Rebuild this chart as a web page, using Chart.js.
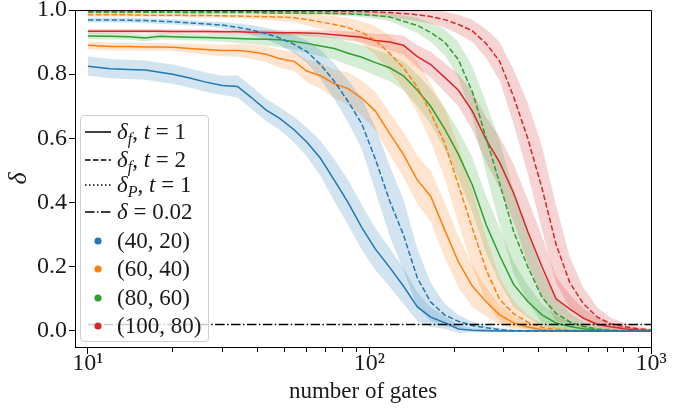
<!DOCTYPE html>
<html>
<head>
<meta charset="utf-8">
<script src="https://cdn.jsdelivr.net/npm/chart.js@4.4.1/dist/chart.umd.min.js"></script>
<style>
  html, body { margin: 0; padding: 0; background: #fff; }
  #wrap { position: relative; width: 694px; height: 409px; }
  #chart { display: block; }
  #legend {
    position: absolute;
    box-sizing: border-box;
    width: 129px;
    height: 227px;
    background: rgba(255, 255, 255, 0.8);
    border: 1px solid #d0d0d0;
    border-radius: 4px;
    font-family: "Liberation Serif", serif;
    font-size: 23px;
    color: #1a1a1a;
  }
  .row { position: absolute; left: 0; right: 0; height: 28px; }
  .row svg { position: absolute; left: 2px; top: 0; }
  .row .txt { position: absolute; left: 36px; top: 0; height: 28px; line-height: 28px; white-space: nowrap; }
  .row sub { font-size: 0.7em; vertical-align: -0.3em; line-height: 0; }
</style>
</head>
<body>
<div id="wrap">
  <canvas id="chart" width="694" height="409"></canvas>
  <div id="legend"></div>
</div>
<script>
const GATES = [10, 12, 14, 16, 18, 20, 23, 26, 30, 34, 38, 43, 48, 54, 60, 67, 75, 84, 94, 105,
  118, 132, 148, 165, 185, 207, 232, 260, 290, 325, 365, 410, 460, 515, 575, 645, 720, 805, 900, 1000];

const X_MAJOR = [10, 100, 1000];
const X_MAJOR_LABELS = ["10¹", "10²", "10³"];
const X_MINOR = [20, 30, 40, 50, 60, 70, 80, 90, 200, 300, 400, 500, 600, 700, 800, 900];
const Y_TICKS = [0, 0.2, 0.4, 0.6, 0.8, 1.0];
const THRESHOLD = 0.02;

const CONFIGS = ["(40, 20)", "(60, 40)", "(80, 60)", "(100, 80)"];
const COLORS = ["#1f77b4", "#ff7f0e", "#2ca02c", "#d62728"];

// (40, 20)
const blueT1 = [0.825, 0.817, 0.815, 0.813, 0.806, 0.800, 0.788, 0.776, 0.765, 0.762,
  0.728, 0.688, 0.662, 0.627, 0.588, 0.538, 0.470, 0.400, 0.322, 0.255,
  0.198, 0.140, 0.075, 0.043, 0.026, 0.006, 0.002, 0.001, 0, 0,
  0, 0, 0, 0, 0, 0, 0, 0, 0, 0];
const blueT1Std = [0.03, 0.03, 0.03, 0.03, 0.03, 0.03, 0.03, 0.03, 0.03, 0.035,
  0.035, 0.035, 0.035, 0.04, 0.045, 0.055, 0.065, 0.07, 0.07, 0.065,
  0.06, 0.055, 0.045, 0.03, 0.02, 0.012, 0.006, 0.004, 0.003, 0.002,
  0.002, 0.002, 0.002, 0.002, 0.002, 0.002, 0.002, 0.002, 0.002, 0.002];
const blueT2 = [0.969, 0.969, 0.968, 0.967, 0.965, 0.963, 0.960, 0.957, 0.953, 0.946,
  0.938, 0.926, 0.913, 0.893, 0.870, 0.830, 0.778, 0.715, 0.645, 0.535,
  0.405, 0.300, 0.165, 0.090, 0.050, 0.030, 0.017, 0.010, 0.004, 0.001,
  0, 0, 0, 0, 0, 0, 0, 0, 0, 0];
const blueT2Std = [0.008, 0.008, 0.008, 0.008, 0.008, 0.008, 0.008, 0.008, 0.01, 0.012,
  0.015, 0.018, 0.022, 0.028, 0.035, 0.045, 0.055, 0.065, 0.08, 0.1,
  0.11, 0.11, 0.09, 0.06, 0.035, 0.02, 0.012, 0.008, 0.005, 0.003,
  0.002, 0.002, 0.002, 0.002, 0.002, 0.002, 0.002, 0.002, 0.002, 0.002];

// (60, 40)
const orangeT1 = [0.890, 0.886, 0.886, 0.885, 0.885, 0.884, 0.880, 0.877, 0.874, 0.874,
  0.870, 0.862, 0.848, 0.840, 0.810, 0.795, 0.770, 0.755, 0.725, 0.685,
  0.615, 0.550, 0.470, 0.420, 0.315, 0.215, 0.140, 0.090, 0.050, 0.025,
  0.012, 0.004, 0.001, 0, 0, 0, 0, 0, 0, 0];
const orangeT1Std = [0.012, 0.012, 0.012, 0.012, 0.012, 0.012, 0.014, 0.016, 0.018, 0.02,
  0.022, 0.025, 0.028, 0.03, 0.035, 0.04, 0.045, 0.05, 0.055, 0.06,
  0.065, 0.07, 0.075, 0.08, 0.085, 0.08, 0.065, 0.045, 0.03, 0.02,
  0.012, 0.006, 0.003, 0.002, 0.002, 0.002, 0.002, 0.002, 0.002, 0.002];
const orangeT2 = [0.985, 0.985, 0.985, 0.984, 0.984, 0.984, 0.983, 0.983, 0.982, 0.981,
  0.980, 0.979, 0.978, 0.976, 0.970, 0.963, 0.955, 0.945, 0.930, 0.905,
  0.865, 0.820, 0.760, 0.680, 0.585, 0.455, 0.320, 0.190, 0.098, 0.054,
  0.027, 0.011, 0.005, 0.002, 0.001, 0, 0, 0, 0, 0];
const orangeT2Std = [0.006, 0.006, 0.006, 0.006, 0.006, 0.006, 0.006, 0.006, 0.006, 0.006,
  0.008, 0.01, 0.012, 0.015, 0.018, 0.022, 0.026, 0.03, 0.035, 0.045,
  0.055, 0.065, 0.08, 0.09, 0.11, 0.12, 0.12, 0.1, 0.07, 0.04,
  0.022, 0.012, 0.006, 0.003, 0.002, 0.002, 0.002, 0.002, 0.002, 0.002];

// (80, 60)
const greenT1 = [0.919, 0.918, 0.917, 0.913, 0.918, 0.917, 0.915, 0.914, 0.913, 0.911,
  0.910, 0.909, 0.907, 0.902, 0.896, 0.888, 0.880, 0.865, 0.853, 0.836,
  0.820, 0.795, 0.750, 0.700, 0.630, 0.550, 0.455, 0.330, 0.235, 0.145,
  0.092, 0.050, 0.025, 0.014, 0.007, 0.003, 0.001, 0, 0, 0];
const greenT1Std = [0.01, 0.01, 0.01, 0.01, 0.01, 0.01, 0.01, 0.01, 0.012, 0.014,
  0.016, 0.02, 0.022, 0.026, 0.03, 0.032, 0.034, 0.036, 0.038, 0.04,
  0.042, 0.045, 0.05, 0.055, 0.065, 0.075, 0.085, 0.09, 0.085, 0.07,
  0.05, 0.035, 0.022, 0.012, 0.007, 0.004, 0.002, 0.002, 0.002, 0.002];
const greenT2 = [0.993, 0.993, 0.993, 0.993, 0.993, 0.993, 0.992, 0.992, 0.992, 0.992,
  0.992, 0.991, 0.991, 0.991, 0.990, 0.990, 0.989, 0.988, 0.986, 0.983,
  0.978, 0.965, 0.952, 0.930, 0.900, 0.845, 0.745, 0.600, 0.460, 0.310,
  0.200, 0.105, 0.055, 0.028, 0.014, 0.006, 0.002, 0.001, 0, 0];
const greenT2Std = [0.004, 0.004, 0.004, 0.004, 0.004, 0.004, 0.004, 0.004, 0.004, 0.004,
  0.004, 0.004, 0.004, 0.004, 0.005, 0.005, 0.006, 0.007, 0.008, 0.01,
  0.013, 0.018, 0.024, 0.03, 0.04, 0.055, 0.08, 0.11, 0.13, 0.13,
  0.11, 0.08, 0.05, 0.028, 0.015, 0.008, 0.004, 0.003, 0.002, 0.002];

// (100, 80)
const redT1 = [0.934, 0.934, 0.934, 0.934, 0.934, 0.933, 0.933, 0.933, 0.932, 0.932,
  0.931, 0.930, 0.929, 0.929, 0.928, 0.927, 0.923, 0.919, 0.915, 0.905,
  0.900, 0.890, 0.855, 0.830, 0.790, 0.750, 0.685, 0.595, 0.525, 0.430,
  0.310, 0.200, 0.100, 0.068, 0.040, 0.020, 0.013, 0.007, 0.003, 0.001];
const redT1Std = [0.007, 0.007, 0.007, 0.007, 0.007, 0.007, 0.007, 0.007, 0.007, 0.007,
  0.007, 0.007, 0.008, 0.008, 0.009, 0.01, 0.012, 0.014, 0.016, 0.02,
  0.025, 0.03, 0.035, 0.04, 0.045, 0.05, 0.06, 0.07, 0.08, 0.09,
  0.1, 0.095, 0.07, 0.045, 0.03, 0.02, 0.012, 0.008, 0.005, 0.004];
const redT2 = [0.997, 0.997, 0.997, 0.997, 0.997, 0.997, 0.997, 0.996, 0.996, 0.996,
  0.996, 0.996, 0.996, 0.996, 0.996, 0.996, 0.995, 0.995, 0.995, 0.994,
  0.992, 0.989, 0.985, 0.980, 0.970, 0.955, 0.935, 0.895, 0.840, 0.730,
  0.600, 0.445, 0.270, 0.150, 0.085, 0.043, 0.022, 0.013, 0.007, 0.003];
const redT2Std = [0.004, 0.004, 0.004, 0.004, 0.004, 0.004, 0.004, 0.004, 0.004, 0.004,
  0.005, 0.005, 0.006, 0.006, 0.007, 0.008, 0.009, 0.01, 0.012, 0.014,
  0.016, 0.018, 0.02, 0.022, 0.025, 0.03, 0.035, 0.045, 0.06, 0.085,
  0.11, 0.13, 0.12, 0.08, 0.05, 0.03, 0.018, 0.012, 0.008, 0.005];

const SERIES = [
  { color: COLORS[0], mean: blueT1, std: blueT1Std, dashed: false },
  { color: COLORS[0], mean: blueT2, std: blueT2Std, dashed: true },
  { color: COLORS[1], mean: orangeT1, std: orangeT1Std, dashed: false },
  { color: COLORS[1], mean: orangeT2, std: orangeT2Std, dashed: true },
  { color: COLORS[2], mean: greenT1, std: greenT1Std, dashed: false },
  { color: COLORS[2], mean: greenT2, std: greenT2Std, dashed: true },
  { color: COLORS[3], mean: redT1, std: redT1Std, dashed: false },
  { color: COLORS[3], mean: redT2, std: redT2Std, dashed: true }
];

const DASHED = [5.5, 2.4];
const DOTTED = [1.5, 2.5];
const DASH_DOT = [9.6, 2.4, 1.5, 2.4];
const FONT = "'Liberation Serif', 'DejaVu Serif', serif";

const points = (ys) => GATES.map((x, i) => ({ x, y: ys[i] }));

const buildDatasets = () => {
  const lines = [];
  const bands = [];

  SERIES.forEach((s) => {
    lines.push({
      data: points(s.mean),
      borderColor: s.color,
      borderWidth: 1.5,
      borderDash: s.dashed ? DASHED : [],
      pointRadius: 0,
      fill: false,
      tension: 0
    });
    bands.push({
      data: points(s.mean.map((m, i) => m + s.std[i])),
      borderColor: "transparent",
      borderWidth: 0,
      backgroundColor: s.color + "33",
      pointRadius: 0,
      fill: "+1",
      tension: 0
    });
    bands.push({
      data: points(s.mean.map((m, i) => m - s.std[i])),
      borderColor: "transparent",
      borderWidth: 0,
      pointRadius: 0,
      fill: false,
      tension: 0
    });
  });

  // the first dataset is painted last, so the threshold sits on top
  const threshold = {
    data: [{ x: GATES[0], y: THRESHOLD }, { x: GATES[GATES.length - 1], y: THRESHOLD }],
    borderColor: "#000",
    borderWidth: 1.5,
    borderDash: DASH_DOT,
    pointRadius: 0,
    fill: false
  };

  return [threshold, ...lines, ...bands];
};

const framePlugin = {
  id: "frame",
  afterDatasetsDraw(chart) {
    const { ctx, chartArea: a } = chart;
    ctx.save();
    ctx.strokeStyle = "#000";
    ctx.lineWidth = 1;
    ctx.beginPath();
    ctx.moveTo(a.left, Math.floor(a.top) + 0.5);
    ctx.lineTo(Math.floor(a.right) + 0.5, Math.floor(a.top) + 0.5);
    ctx.lineTo(Math.floor(a.right) + 0.5, a.bottom);
    ctx.stroke();
    ctx.restore();
  }
};

Chart.defaults.font.family = FONT;
Chart.defaults.font.size = 23;
Chart.defaults.color = "#1a1a1a";

const chart = new Chart(document.getElementById("chart"), {
  type: "line",
  data: { datasets: buildDatasets() },
  options: {
    responsive: false,
    animation: false,
    layout: { padding: { left: 0, right: 43, top: 10, bottom: 0 } },
    plugins: {
      legend: { display: false },
      tooltip: { enabled: false },
      filler: { drawTime: "beforeDatasetsDraw" }
    },
    scales: {
      x: {
        type: "logarithmic",
        min: 9,
        max: 1000,
        border: { display: true, color: "#000", width: 1 },
        grid: {
          drawOnChartArea: false,
          drawTicks: true,
          tickLength: 7,
          tickColor: "#000",
          tickWidth: 1,
          tickBorderDash: (ctx) => (ctx.tick && X_MAJOR.includes(ctx.tick.value) ? [] : [4, 100])
        },
        afterBuildTicks: (scale) => {
          scale.ticks = [...X_MAJOR, ...X_MINOR].sort((a, b) => a - b).map((v) => ({ value: v }));
        },
        ticks: {
          autoSkip: false,
          maxRotation: 0,
          padding: -2,
          font: { size: 24, lineHeight: 1 },
          callback: (value) => {
            const i = X_MAJOR.indexOf(value);
            return i >= 0 ? X_MAJOR_LABELS[i] : "";
          }
        },
        title: {
          display: true,
          text: "number of gates",
          font: { size: 23, lineHeight: 1.2 },
          padding: { top: 0, bottom: 3 }
        },
        afterFit: (scale) => {
          scale.height = 62;
          scale.paddingLeft = 0;
          scale.paddingRight = 0;
        }
      },
      y: {
        type: "linear",
        min: -0.05,
        max: 1.0,
        border: { display: true, color: "#000", width: 1 },
        grid: {
          drawOnChartArea: false,
          drawTicks: true,
          tickLength: 6,
          tickColor: "#000",
          tickWidth: 1
        },
        afterBuildTicks: (scale) => {
          scale.ticks = Y_TICKS.map((v) => ({ value: v }));
        },
        ticks: {
          padding: 2,
          font: { size: 24 },
          callback: (value) => value.toFixed(1)
        },
        title: {
          display: true,
          text: "δ",
          font: { size: 26, style: "italic", lineHeight: 1.2 },
          padding: { top: 4, bottom: 0 }
        },
        afterFit: (scale) => {
          scale.width = 75;
          scale.paddingTop = 0;
          scale.paddingBottom = 0;
        }
      }
    }
  },
  plugins: [framePlugin]
});

// legend in HTML so the sub-scripted labels stay real text
const LEGEND_ROWS = [
  { y: 15.5, dash: [], html: "<i>δ</i><sub><i>f</i></sub>, <i>t</i> = 1" },
  { y: 44, dash: DASHED, html: "<i>δ</i><sub><i>f</i></sub>, <i>t</i> = 2" },
  { y: 69, dash: DOTTED, html: "<i>δ</i><sub><i>P</i></sub>, <i>t</i> = 1" },
  { y: 96, dash: DASH_DOT, html: "<i>δ</i> = 0.02" },
  { y: 124.5, dot: COLORS[0], html: CONFIGS[0] },
  { y: 153, dot: COLORS[1], html: CONFIGS[1] },
  { y: 181.5, dot: COLORS[2], html: CONFIGS[2] },
  { y: 210, dot: COLORS[3], html: CONFIGS[3] }
];

const renderLegend = () => {
  const box = document.getElementById("legend");
  const a = chart.chartArea;
  box.style.left = `${a.left + 5}px`;
  box.style.top = `${a.bottom - 5 - 227}px`;

  box.innerHTML = LEGEND_ROWS.map((r) => {
    const handle = r.dot
      ? `<circle cx="15" cy="14" r="3.6" fill="${r.dot}"/>`
      : `<line x1="2" y1="14" x2="28" y2="14" stroke="#000" stroke-width="1.5" stroke-dasharray="${r.dash.join(" ")}"/>`;
    return `
      <div class="row" style="top:${r.y - 14}px">
        <svg width="30" height="28">${handle}</svg>
        <span class="txt">${r.html}</span>
      </div>`;
  }).join("");
};

renderLegend();
</script>
</body>
</html>
